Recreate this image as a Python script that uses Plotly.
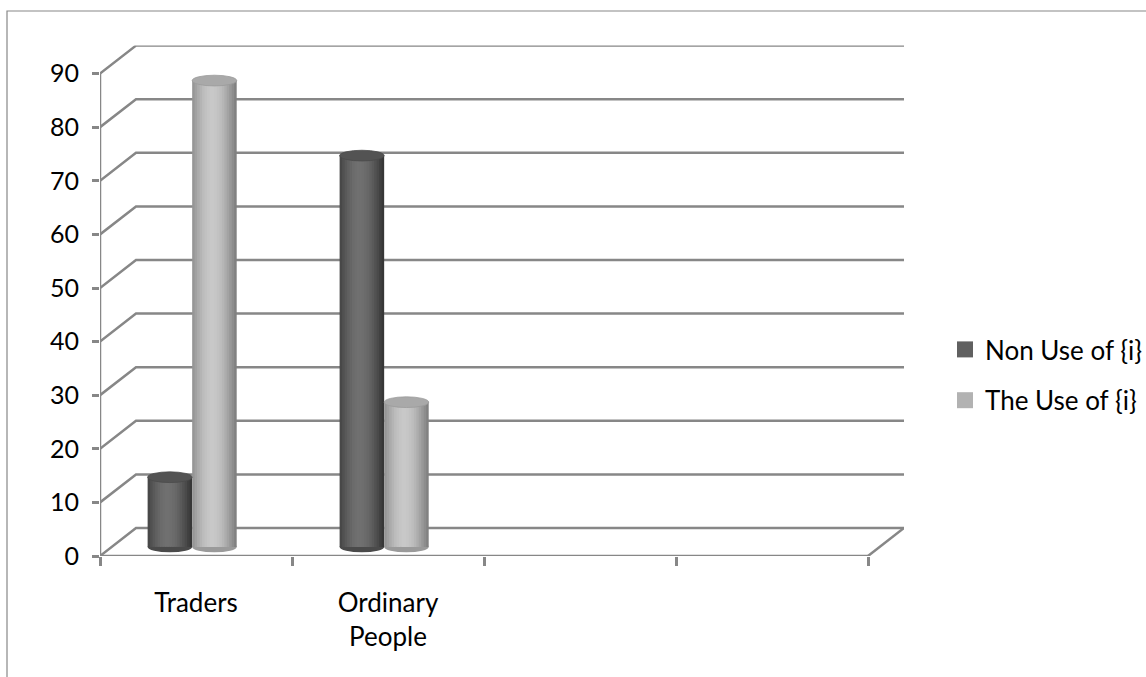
import math
import plotly.graph_objects as go

# ---- data -------------------------------------------------------------
categories = ["Traders", "Ordinary People", "", ""]
series_names = ["Non Use of {i}", "The Use of {i}"]
non_use = [13, 73]
use = [87, 27]
y_ticks = [0, 10, 20, 30, 40, 50, 60, 70, 80, 90]

# ---- styling / geometry ----------------------------------------------
W, H = 1146, 677
FONT = "Lato"
FONT_SIZE = 26
GRID = "#878787"
DEPTH_X = 0.1875          # oblique depth offset in category units
DEPTH_Y = 5.22            # oblique depth offset in value units
BASE = 1.7                # cylinder base sits a little inside the floor
BAR_W = 0.232
CAP_H = 1.0               # half height of the elliptic caps (value units)
N_STRIPS = 18
PX_PER_CAT = 192
PX_PER_UNIT = 5.36
X0_PX, Y0_PX = 100, 556   # pixel position of the front origin

x_max = len(categories) + DEPTH_X
y_max = y_ticks[-1] + DEPTH_Y
cat_pos = [i + 0.5 for i in range(len(categories))]

series = [
    dict(name=series_names[0], values=non_use, offset=-0.252,
         lo=54, hi=112, cap="#535353", foot="#4a4a4a", swatch="#606060"),
    dict(name=series_names[1], values=use, offset=-0.020,
         lo=128, hi=200, cap="#a9a9a9", foot="#9a9a9a", swatch="#b2b2b2"),
]


def shade(t):
    # light falls on the cylinder a bit left of its centre
    return max(0.0, math.cos((t - 0.45) * math.pi * 0.95))


fig = go.Figure()
shapes = []

# back wall grid (oblique) and floor
for v in y_ticks:
    path = (f"M 0,{v} L {DEPTH_X},{v + DEPTH_Y} "
            f"L {len(categories) + DEPTH_X},{v + DEPTH_Y}")
    shapes.append(dict(type="path", path=path, xref="x", yref="y",
                       line=dict(color=GRID, width=2.5), layer="below"))
shapes.append(dict(type="line", xref="x", yref="y", x0=0, y0=0,
                   x1=len(categories), y1=0,
                   line=dict(color=GRID, width=2.5), layer="below"))
shapes.append(dict(type="line", xref="x", yref="y", x0=len(categories), y0=0,
                   x1=len(categories) + DEPTH_X, y1=DEPTH_Y,
                   line=dict(color=GRID, width=2.5), layer="below"))
shapes.append(dict(type="line", xref="x", yref="y", x0=0, y0=0,
                   x1=0, y1=y_ticks[-1],
                   line=dict(color=GRID, width=2.5), layer="below"))

# cylinders: vertical strips with a shaded profile plus elliptic caps
for s in series:
    vals = s["values"]
    xs = cat_pos[:len(vals)]
    step = BAR_W / N_STRIPS
    for k in range(N_STRIPS):
        t = (k + 0.5) / N_STRIPS
        g = int(round(s["lo"] + (s["hi"] - s["lo"]) * shade(t)))
        width = min(step * 1.5, BAR_W - k * step)
        fig.add_trace(go.Bar(
            x=xs, y=vals, base=[BASE] * len(vals),
            width=[width] * len(vals), offset=[s["offset"] + k * step] * len(vals),
            marker=dict(color=f"rgb({g},{g},{g})", line=dict(width=0)),
            showlegend=False, hoverinfo="skip",
        ))
    for xc, v in zip(xs, vals):
        x0 = xc + s["offset"]
        x1 = x0 + BAR_W
        # rounded foot of the cylinder
        shapes.append(dict(type="circle", xref="x", yref="y",
                           x0=x0, x1=x1, y0=BASE - CAP_H, y1=BASE + CAP_H,
                           fillcolor=s["foot"], line=dict(width=0),
                           layer="between"))
        # top cap
        top = BASE + v
        shapes.append(dict(type="circle", xref="x", yref="y",
                           x0=x0, x1=x1, y0=top - CAP_H, y1=top + CAP_H,
                           fillcolor=s["cap"],
                           line=dict(color=s["foot"], width=0.8),
                           layer="above"))

# legend entries
for i, s in enumerate(series):
    fig.add_trace(go.Scatter(
        x=[None], y=[None], mode="markers", name=s["name"],
        legendgroup=f"g{i}",
        marker=dict(symbol="square", size=16, color=s["swatch"],
                    line=dict(width=0)),
    ))

# chart border
shapes.append(dict(type="rect", xref="paper", yref="paper",
                   x0=7 / W, x1=1.01, y0=-0.01, y1=1 - 11 / H,
                   line=dict(color="#888888", width=1.2), layer="below"))

tick_text = [c.replace(" ", "<br>") if len(c) > 10 else c for c in categories]

fig.update_layout(
    width=W, height=H,
    margin=dict(l=0, r=0, t=0, b=0, autoexpand=False),
    paper_bgcolor="white", plot_bgcolor="white",
    barmode="overlay",
    shapes=shapes,
    font=dict(family=FONT, size=FONT_SIZE, color="#000000"),
    showlegend=True,
    legend=dict(x=945 / W, y=(H - 375) / H, xanchor="left", yanchor="middle",
                font=dict(family=FONT, size=FONT_SIZE, color="#000000"),
                tracegroupgap=14, bgcolor="rgba(0,0,0,0)",
                itemclick=False, itemdoubleclick=False),
    xaxis=dict(
        range=[0, x_max],
        domain=[X0_PX / W, (X0_PX + x_max * PX_PER_CAT) / W],
        automargin=False,
        showgrid=False, zeroline=False, showline=False,
        tickmode="array", tickvals=cat_pos, ticktext=tick_text,
        ticks="", ticklabelstandoff=29,
        tickfont=dict(family=FONT, size=FONT_SIZE, color="#000000"),
        minor=dict(ticks="outside", tick0=0, dtick=1, ticklen=9,
                   tickwidth=2.5, tickcolor=GRID, showgrid=False),
        fixedrange=True,
    ),
    yaxis=dict(
        range=[0, y_max],
        domain=[(H - Y0_PX) / H, (H - Y0_PX + y_max * PX_PER_UNIT) / H],
        automargin=False,
        showgrid=False, zeroline=False, showline=False,
        tickmode="array", tickvals=y_ticks,
        ticks="outside", ticklen=7, tickwidth=2.5, tickcolor=GRID,
        ticklabelstandoff=8,
        tickfont=dict(family=FONT, size=25, color="#000000"),
        fixedrange=True,
    ),
)

fig.write_html("out.html")
